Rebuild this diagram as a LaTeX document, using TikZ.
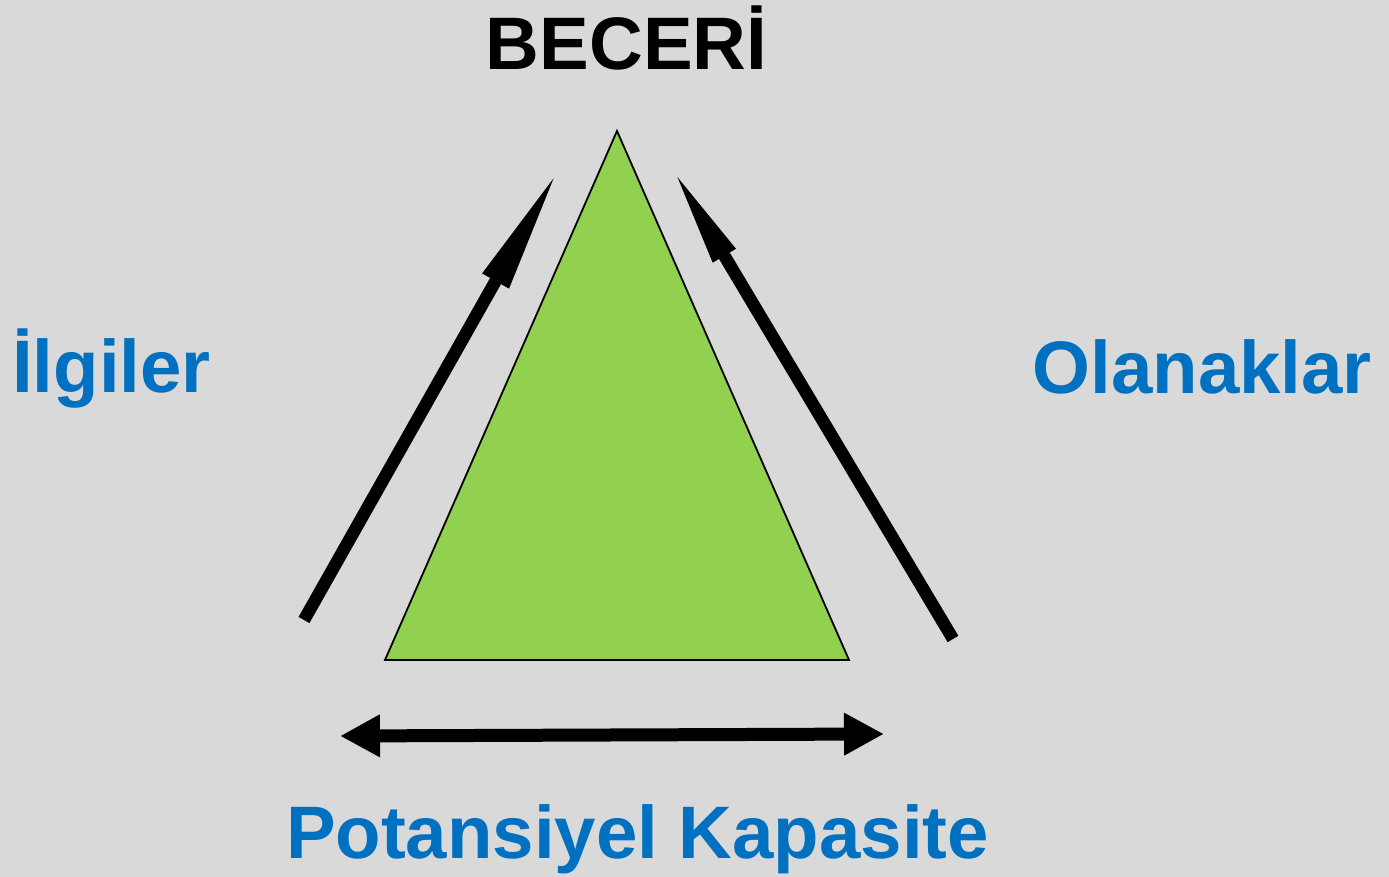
\documentclass[tikz,border=0pt]{standalone}
\usepackage{fontspec}
\setmainfont{Liberation Sans}
\usetikzlibrary{arrows.meta}
\definecolor{bg}{HTML}{D9D9D9}
\definecolor{tri}{HTML}{92D050}
\definecolor{lbl}{HTML}{0070C0}
\begin{document}
\begin{tikzpicture}[x=1pt,y=1pt,
  lab/.style={inner sep=0pt,font=\fontsize{74.4}{80}\selectfont\bfseries},
  ]
\fill[bg] (0,0) rectangle (1389,877);
\useasboundingbox (0,0) rectangle (1389,877);
% triangle
\coordinate (apex) at (617,746);
\coordinate (bl) at (385,217);
\coordinate (br) at (849,217);
\draw[fill=tri,line width=1.8pt,line join=miter] (apex) -- (bl) -- (br) -- cycle;
% arrows
\coordinate (la0) at (304,257);
\coordinate (la1) at (560,710);
\coordinate (ra0) at (953,238);
\coordinate (ra1) at (669,714);
\coordinate (ba0) at (340,141);
\coordinate (ba1) at (884,143);
\draw[line width=12.5pt,-{Triangle[length=131pt,width=27pt]}] (la0) -- (la1);
\draw[line width=12.5pt,-{Triangle[length=108pt,width=23pt]}] (ra0) -- (ra1);
\draw[line width=13pt,{Triangle[length=40pt,width=40pt]}-{Triangle[length=40pt,width=40pt]}] (ba0) -- (ba1);
% labels
\node[lab,anchor=base] (beceri) at (626.5,807) {BECERİ};
\node[lab,anchor=base west,text=lbl] (ilgiler) at (12,484) {İlgiler};
\node[lab,anchor=base east,text=lbl] (olanaklar) at (1372,483) {Olanaklar};
\node[lab,anchor=base,text=lbl] (potansiyel) at (637.5,18) {Potansiyel Kapasite};
\end{tikzpicture}
\end{document}
